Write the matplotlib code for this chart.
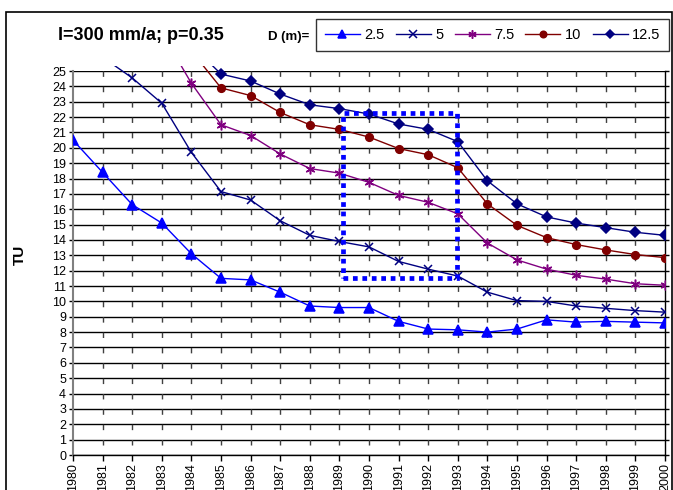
import numpy as np
import matplotlib.pyplot as plt
from matplotlib.patches import Rectangle
from matplotlib.lines import Line2D

nan = np.nan

# данные
years = list(range(1980, 2001))
d_labels = ['2.5', '5', '7.5', '10', '12.5']

tu_25 = [20.5, 18.4, 16.3, 15.1, 13.1, 11.5, 11.4, 10.6, 9.7, 9.6, 9.6,
         8.7, 8.2, 8.15, 8.0, 8.2, 8.8, 8.65, 8.7, 8.65, 8.6]
tu_5 = [nan, 25.9, 24.55, 22.9, 19.7, 17.15, 16.6, 15.25, 14.3, 13.9, 13.55,
        12.6, 12.1, 11.65, 10.6, 10.05, 10.0, 9.7, 9.55, 9.4, 9.3]
tu_75 = [nan, nan, nan, 27.5, 24.2, 21.5, 20.8, 19.6, 18.65, 18.35, 17.75,
         16.9, 16.45, 15.7, 13.8, 12.7, 12.1, 11.7, 11.45, 11.15, 11.05]
tu_10 = [nan, nan, nan, nan, 26.3, 23.9, 23.4, 22.3, 21.5, 21.2, 20.7,
         19.95, 19.55, 18.7, 16.35, 14.95, 14.15, 13.7, 13.35, 13.05, 12.85]
tu_125 = [nan, nan, nan, nan, 26.7, 24.8, 24.35, 23.5, 22.8, 22.55, 22.2,
          21.55, 21.2, 20.4, 17.85, 16.35, 15.5, 15.1, 14.8, 14.5, 14.3]

series = [tu_25, tu_5, tu_75, tu_10, tu_125]
colors = ['#0000FF', '#000080', '#800080', '#800000', '#000080']
markers = ['^', 'x', (6, 2, 0), 'o', 'D']
msizes = [7, 6, 7, 5.5, 5]

# выделенная область (пунктирный прямоугольник)
box_x = (1989.12, 1992.97)
box_y = (11.52, 22.27)

plt.rcParams['font.family'] = ['Liberation Sans', 'DejaVu Sans']

fig = plt.figure(figsize=(6.73, 4.90), dpi=100)
ax = fig.add_axes([73 / 673, 35 / 490, 592 / 673, 384 / 490])

ax.set_xlim(1980, 2000)
ax.set_ylim(0, 25)

# горизонтальная сетка
ax.set_yticks(range(0, 26))
ax.grid(True, axis='y', color='black', linewidth=1)
ax.set_axisbelow(True)

# вертикальные штрихи (как в Excel) - штрих сразу под каждой линией сетки
ax_h_pt = 384 / 100 * 72
step = ax_h_pt / 25
ax.vlines(years[1:-1], 25, 0, colors='#404040', linewidth=1,
          linestyles=[(0, (step * 0.35, step * 0.65))], zorder=1)

clip = Rectangle((0, 0), 1, 1.013, transform=ax.transAxes, visible=False)
ax.add_patch(clip)

for vals, lab, c, m, ms in zip(series, d_labels, colors, markers, msizes):
    ln, = ax.plot(years, vals, color=c, marker=m, markersize=ms, linewidth=1,
                  markeredgewidth=1.1, label=lab, zorder=3)
    ln.set_clip_path(clip)

ax.add_patch(Rectangle((box_x[0], box_y[0]), box_x[1] - box_x[0], box_y[1] - box_y[0],
                       fill=False, edgecolor='#0000FF', linewidth=3.4,
                       linestyle=(0, (1, 1)), zorder=4))

ax.set_xticks(years)
ax.set_xticklabels([str(y) for y in years], rotation=90, fontsize=9)
ax.tick_params(axis='x', direction='out', length=4, width=1, pad=2, colors='black')
ax.tick_params(axis='y', direction='out', length=3, width=1, labelsize=9, pad=2)
ax.tick_params(axis='y', which='both', right=True)

ax.spines['top'].set_visible(False)
ax.spines['left'].set_color('#808080')
ax.spines['left'].set_linewidth(1.5)
ax.spines['bottom'].set_linewidth(1)
ax.spines['right'].set_linewidth(1)

fig.text(20 / 673, 1 - 255 / 490, 'TU', rotation=90, fontsize=11, fontweight='bold',
         ha='center', va='center')

# внешняя рамка
fig.patches.append(Rectangle((6 / 673, -0.1), 666 / 673, 1.1 - 12 / 490,
                             transform=fig.transFigure, fill=False,
                             edgecolor='black', linewidth=1.2))

fig.text(141 / 673, 1 - 36 / 490, 'I=300 mm/a; p=0.35', fontsize=13,
         fontweight='bold', ha='center', va='center')
fig.text(289 / 673, 1 - 37 / 490, 'D (m)=', fontsize=9.5, fontweight='bold',
         ha='center', va='center')

handles = [Line2D([], [], color=c, marker=m, markersize=ms * 0.85, linewidth=1,
                  markeredgewidth=1.1)
           for c, m, ms in zip(colors, markers, msizes)]
leg = fig.legend(handles, d_labels, loc='center left', ncol=5,
                 bbox_to_anchor=(316 / 673, 1 - 57 / 490, 353 / 673, 44 / 490),
                 mode='expand', fontsize=10.5, frameon=True, fancybox=False,
                 handlelength=2.4, handletextpad=0.3, columnspacing=1.0,
                 borderaxespad=0, borderpad=0.6)
leg.get_frame().set_edgecolor('black')
leg.get_frame().set_linewidth(1)

fig.savefig('out.png', dpi=100)
